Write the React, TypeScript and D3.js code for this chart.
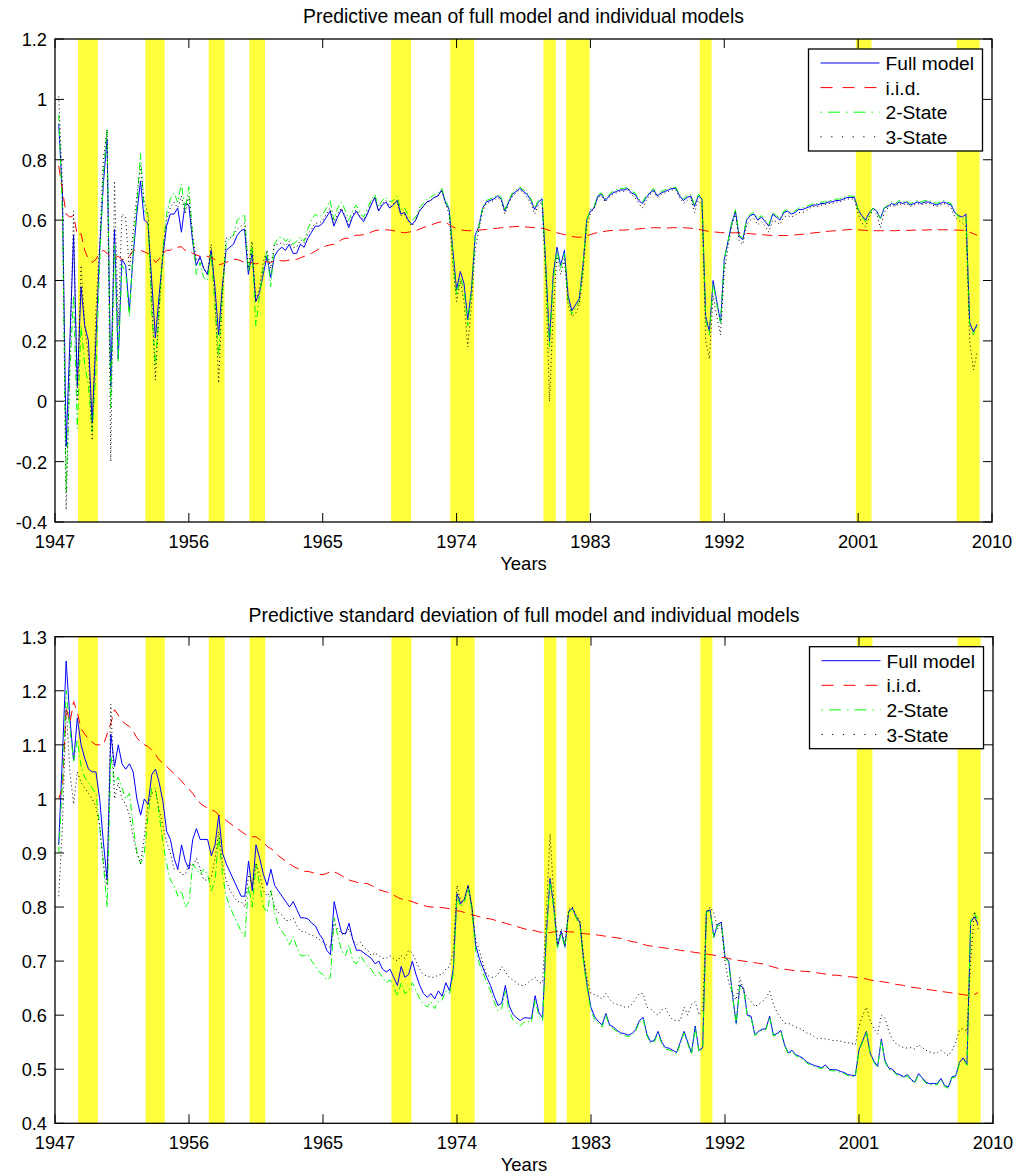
import React from "react";
import * as d3 from "d3";

// ---------------- DATA ----------------
const START_YEAR = 1947.25; // first quarter plotted
const QUARTER = 0.25;

const seriesNames = ["Full model", "i.i.d.", "2-State", "3-State"];

const recessions: [number, number][] = [
  [1948.55, 1949.88], [1953.08, 1954.37], [1957.33, 1958.4], [1960.07, 1961.12],
  [1969.6, 1970.94], [1973.58, 1975.18], [1979.84, 1980.67], [1981.37, 1982.94],
  [1990.35, 1991.15], [2000.85, 2001.9], [2007.62, 2009.17],
];

const xTickYears = [1947, 1956, 1965, 1974, 1983, 1992, 2001, 2010];
const meanTicks = [-0.4, -0.2, 0, 0.2, 0.4, 0.6, 0.8, 1, 1.2];
const sdTicks = [0.4, 0.5, 0.6, 0.7, 0.8, 0.9, 1, 1.1, 1.2, 1.3];

// Predictive mean
const meanFull = [
  0.92, 0.68, -0.15,
  0.2, 0.55, 0.05, 0.38,
  0.25, 0.2, -0.07, 0.2,
  0.5, 0.72, 0.87, 0.05,
  0.57, 0.14, 0.47, 0.45,
  0.3, 0.48, 0.62, 0.73,
  0.6, 0.59, 0.4, 0.21,
  0.35, 0.48, 0.58, 0.62,
  0.62, 0.64, 0.56, 0.655,
  0.65, 0.53, 0.45, 0.48,
  0.44, 0.42, 0.5, 0.38,
  0.22, 0.38, 0.5, 0.51,
  0.52, 0.55, 0.565, 0.57,
  0.42, 0.49, 0.33, 0.36,
  0.42, 0.48, 0.41, 0.48,
  0.5, 0.51, 0.5, 0.52,
  0.49, 0.49, 0.52, 0.51,
  0.54, 0.56, 0.58, 0.58,
  0.59, 0.61, 0.63, 0.58,
  0.61, 0.635, 0.61, 0.575,
  0.61, 0.63, 0.61, 0.595,
  0.62, 0.65, 0.675, 0.63,
  0.65, 0.66, 0.64, 0.65,
  0.665, 0.62, 0.625, 0.6,
  0.585, 0.6, 0.63, 0.645,
  0.66, 0.665, 0.675, 0.68,
  0.7, 0.66, 0.635, 0.5,
  0.37, 0.43, 0.39, 0.27,
  0.37, 0.55, 0.58, 0.64,
  0.66, 0.665, 0.67, 0.68,
  0.67, 0.63, 0.66, 0.685,
  0.695, 0.705, 0.695, 0.685,
  0.665, 0.635, 0.66, 0.67,
  0.45, 0.2, 0.42, 0.51,
  0.45, 0.5, 0.35, 0.3,
  0.32, 0.34, 0.45, 0.6,
  0.63, 0.64, 0.68, 0.685,
  0.665, 0.68, 0.69, 0.695,
  0.7, 0.7, 0.705, 0.69,
  0.685, 0.665, 0.655, 0.675,
  0.69, 0.7, 0.68, 0.69,
  0.695, 0.7, 0.705, 0.705,
  0.68, 0.665, 0.675, 0.68,
  0.645, 0.68, 0.67, 0.28,
  0.23, 0.4, 0.33, 0.26,
  0.47, 0.53, 0.59, 0.63,
  0.545, 0.535, 0.6, 0.615,
  0.62, 0.6, 0.61, 0.595,
  0.58, 0.62, 0.61, 0.6,
  0.625, 0.63, 0.62, 0.625,
  0.635, 0.635, 0.64, 0.645,
  0.65, 0.65, 0.655, 0.655,
  0.66, 0.66, 0.665, 0.665,
  0.67, 0.675, 0.675, 0.675,
  0.635, 0.615, 0.6, 0.625,
  0.64, 0.63, 0.605, 0.64,
  0.645, 0.655, 0.65, 0.66,
  0.655, 0.66, 0.65, 0.655,
  0.66, 0.655, 0.66, 0.66,
  0.655, 0.65, 0.655, 0.66,
  0.655, 0.65, 0.625, 0.615,
  0.61, 0.62, 0.26, 0.23,
  0.255,
];

const meanIid = [
  0.78, 0.7, 0.62,
  0.61, 0.615, 0.55, 0.555,
  0.5, 0.47, 0.46, 0.47,
  0.49, 0.5, 0.49, 0.48,
  0.475, 0.48, 0.47, 0.47,
  0.48, 0.5, 0.5, 0.5,
  0.495, 0.49, 0.48, 0.46,
  0.47, 0.49, 0.5, 0.5,
  0.51, 0.51, 0.512, 0.5,
  0.5, 0.49, 0.485, 0.48,
  0.48, 0.48, 0.475, 0.47,
  0.452, 0.455, 0.46, 0.465,
  0.47, 0.47, 0.465, 0.46,
  0.455, 0.46, 0.455, 0.457,
  0.46, 0.463, 0.46, 0.465,
  0.467, 0.465, 0.465, 0.468,
  0.47, 0.47, 0.475, 0.48,
  0.485, 0.49, 0.497, 0.505,
  0.51, 0.515, 0.518, 0.52,
  0.525, 0.535, 0.54, 0.54,
  0.545, 0.55, 0.55, 0.552,
  0.555, 0.56, 0.565, 0.567,
  0.568, 0.568, 0.567, 0.565,
  0.563, 0.56, 0.558, 0.56,
  0.562, 0.565, 0.57, 0.575,
  0.579, 0.583, 0.588, 0.592,
  0.595, 0.593, 0.585, 0.578,
  0.572, 0.568, 0.566, 0.565,
  0.565, 0.566, 0.567, 0.568,
  0.569, 0.57, 0.572, 0.573,
  0.575, 0.576, 0.577, 0.578,
  0.579, 0.579, 0.578, 0.577,
  0.576, 0.575, 0.574, 0.573,
  0.57, 0.566, 0.562, 0.558,
  0.555, 0.552, 0.549, 0.546,
  0.544, 0.543, 0.545, 0.548,
  0.552, 0.556, 0.559, 0.561,
  0.563, 0.565, 0.566, 0.567,
  0.567, 0.567, 0.568, 0.569,
  0.57, 0.571, 0.572, 0.573,
  0.574, 0.575, 0.575, 0.574,
  0.574, 0.574, 0.575, 0.575,
  0.575, 0.575, 0.574, 0.573,
  0.572, 0.57, 0.567, 0.565,
  0.562, 0.561, 0.56, 0.559,
  0.558, 0.558, 0.558, 0.558,
  0.558, 0.557, 0.556, 0.555,
  0.554, 0.553, 0.552, 0.551,
  0.55, 0.549, 0.549, 0.549,
  0.549, 0.549, 0.55, 0.551,
  0.552, 0.553, 0.555, 0.556,
  0.558, 0.559, 0.56, 0.562,
  0.563, 0.564, 0.565, 0.566,
  0.567, 0.568, 0.569, 0.569,
  0.568, 0.567, 0.566, 0.565,
  0.565, 0.565, 0.565, 0.565,
  0.565, 0.565, 0.565, 0.566,
  0.566, 0.566, 0.566, 0.567,
  0.567, 0.567, 0.567, 0.568,
  0.568, 0.568, 0.568, 0.568,
  0.568, 0.568, 0.567, 0.567,
  0.566, 0.566, 0.56, 0.555,
  0.55,
];

const mean2State = [
  0.95, 0.62, -0.3,
  0.1, 0.35, -0.09, 0.25,
  0.12, 0.05, -0.1, 0.1,
  0.45, 0.75, 0.9, -0.02,
  0.52, 0.13, 0.45, 0.43,
  0.28, 0.5, 0.65, 0.82,
  0.63, 0.62, 0.3, 0.12,
  0.3, 0.5, 0.62, 0.67,
  0.69, 0.66, 0.72, 0.63,
  0.71, 0.55, 0.42, 0.46,
  0.41, 0.4, 0.49, 0.32,
  0.15, 0.35, 0.52, 0.54,
  0.55, 0.6, 0.61, 0.62,
  0.43, 0.52, 0.25, 0.35,
  0.44, 0.5, 0.38, 0.52,
  0.54, 0.545, 0.53, 0.54,
  0.52, 0.53, 0.545, 0.53,
  0.57, 0.6, 0.62, 0.61,
  0.62, 0.64, 0.665, 0.6,
  0.64, 0.66, 0.635, 0.6,
  0.63, 0.65, 0.625, 0.61,
  0.64, 0.665, 0.685, 0.645,
  0.665, 0.675, 0.66, 0.665,
  0.68, 0.635, 0.64, 0.615,
  0.6, 0.61, 0.64, 0.655,
  0.67, 0.675, 0.685, 0.69,
  0.705, 0.665, 0.64, 0.48,
  0.35, 0.41, 0.37, 0.25,
  0.36, 0.54, 0.58, 0.64,
  0.665, 0.67, 0.675, 0.685,
  0.675, 0.635, 0.665, 0.69,
  0.7, 0.71, 0.7, 0.69,
  0.67, 0.64, 0.665, 0.675,
  0.43, 0.18, 0.4, 0.5,
  0.44, 0.49, 0.33, 0.29,
  0.31, 0.33, 0.45, 0.6,
  0.635, 0.645, 0.685, 0.69,
  0.67, 0.685, 0.695, 0.7,
  0.705, 0.705, 0.71, 0.695,
  0.69, 0.67, 0.66, 0.68,
  0.695, 0.705, 0.685, 0.695,
  0.7, 0.705, 0.71, 0.708,
  0.685, 0.67, 0.68, 0.685,
  0.65, 0.685, 0.675, 0.27,
  0.22, 0.39, 0.32, 0.26,
  0.47, 0.53, 0.59, 0.635,
  0.55, 0.54, 0.605, 0.62,
  0.625, 0.605, 0.615, 0.6,
  0.585, 0.625, 0.615, 0.605,
  0.63, 0.635, 0.625, 0.63,
  0.64, 0.64, 0.645, 0.65,
  0.655, 0.655, 0.66, 0.66,
  0.665, 0.665, 0.67, 0.67,
  0.675, 0.68, 0.68, 0.678,
  0.635, 0.61, 0.595, 0.62,
  0.64, 0.63, 0.605, 0.64,
  0.65, 0.66, 0.655, 0.665,
  0.66, 0.665, 0.655, 0.66,
  0.665, 0.66, 0.665, 0.665,
  0.66, 0.655, 0.66, 0.665,
  0.66, 0.655, 0.63, 0.61,
  0.6, 0.61, 0.25, 0.22,
  0.25,
];

const mean3State = [
  1.01, 0.72, -0.36,
  0.15, 0.63, 0.0, 0.45,
  0.25, 0.15, -0.13, 0.3,
  0.52, 0.8, 0.9, -0.2,
  0.73, 0.25, 0.62, 0.61,
  0.43, 0.56, 0.68, 0.78,
  0.66, 0.62, 0.35, 0.07,
  0.3, 0.5, 0.6, 0.64,
  0.66, 0.64, 0.68, 0.62,
  0.68, 0.55, 0.47, 0.47,
  0.44, 0.42, 0.52, 0.35,
  0.06, 0.35, 0.54, 0.54,
  0.55, 0.57, 0.58, 0.59,
  0.44, 0.53, 0.33, 0.38,
  0.46, 0.5, 0.44, 0.52,
  0.52, 0.525, 0.515, 0.53,
  0.51, 0.51, 0.535, 0.525,
  0.555, 0.57, 0.59, 0.59,
  0.6, 0.62, 0.64, 0.59,
  0.62, 0.64, 0.615, 0.585,
  0.615, 0.635, 0.615, 0.6,
  0.625, 0.655, 0.675, 0.635,
  0.655, 0.665, 0.645, 0.655,
  0.665, 0.615, 0.62, 0.595,
  0.58, 0.6, 0.63, 0.645,
  0.66, 0.665, 0.675, 0.68,
  0.7, 0.655, 0.62, 0.45,
  0.33, 0.4, 0.33, 0.18,
  0.32, 0.5, 0.57, 0.63,
  0.655, 0.66, 0.665, 0.675,
  0.665, 0.62, 0.655, 0.68,
  0.69, 0.7, 0.69, 0.675,
  0.655, 0.62, 0.65, 0.66,
  0.4, 0.0, 0.3, 0.48,
  0.42, 0.47, 0.32, 0.28,
  0.29, 0.32, 0.42, 0.58,
  0.62, 0.64, 0.675, 0.68,
  0.66, 0.675, 0.685, 0.69,
  0.695, 0.695, 0.7, 0.685,
  0.675, 0.655, 0.64, 0.665,
  0.685, 0.695, 0.675, 0.685,
  0.69, 0.695, 0.7, 0.7,
  0.675, 0.655, 0.665, 0.675,
  0.625, 0.665, 0.65, 0.2,
  0.14, 0.35, 0.28, 0.22,
  0.43, 0.51, 0.58, 0.625,
  0.53, 0.52, 0.585, 0.6,
  0.605, 0.585, 0.595, 0.58,
  0.56, 0.6, 0.595, 0.585,
  0.61, 0.615, 0.61, 0.615,
  0.625, 0.625, 0.63, 0.64,
  0.645, 0.645, 0.65, 0.65,
  0.655, 0.655, 0.66, 0.66,
  0.665, 0.67, 0.67, 0.67,
  0.62, 0.59, 0.578, 0.61,
  0.635, 0.62, 0.575, 0.625,
  0.64, 0.65, 0.645, 0.655,
  0.65, 0.655, 0.645, 0.65,
  0.655, 0.65, 0.655, 0.655,
  0.65, 0.645, 0.65, 0.655,
  0.65, 0.64, 0.61, 0.6,
  0.59, 0.58, 0.2, 0.104,
  0.16,
];

// Predictive standard deviation
const sdFull = [
  0.915, 1.08, 1.255,
  1.15, 1.07, 1.15, 1.1,
  1.075, 1.055, 1.05, 1.05,
  1.0, 0.92, 0.85, 1.12,
  1.06, 1.1, 1.065, 1.055,
  1.065, 1.05, 1.0, 0.97,
  1.0, 0.99, 1.045, 1.055,
  1.03, 0.995, 0.94, 0.925,
  0.89, 0.87, 0.915, 0.885,
  0.87, 0.925, 0.945, 0.925,
  0.925, 0.925, 0.895, 0.915,
  0.97, 0.9, 0.88, 0.865,
  0.85, 0.835, 0.82, 0.82,
  0.885, 0.83, 0.915, 0.89,
  0.86, 0.84, 0.87, 0.84,
  0.83, 0.82, 0.81, 0.8,
  0.81, 0.795, 0.78, 0.78,
  0.778, 0.77, 0.765, 0.75,
  0.74, 0.72, 0.712, 0.81,
  0.78, 0.752, 0.75, 0.77,
  0.74, 0.72, 0.72, 0.715,
  0.71, 0.705, 0.695, 0.7,
  0.685, 0.68, 0.685, 0.67,
  0.655, 0.69, 0.67, 0.675,
  0.7, 0.675, 0.655, 0.64,
  0.633, 0.64, 0.63, 0.645,
  0.635, 0.66, 0.645, 0.685,
  0.825, 0.806, 0.815, 0.84,
  0.8, 0.73, 0.705, 0.687,
  0.67, 0.655, 0.635, 0.618,
  0.622, 0.655, 0.618, 0.602,
  0.595, 0.59, 0.595, 0.595,
  0.594, 0.636, 0.605, 0.595,
  0.75, 0.853, 0.8, 0.727,
  0.755, 0.727, 0.792, 0.798,
  0.782, 0.772, 0.702, 0.653,
  0.614, 0.597, 0.588, 0.582,
  0.603, 0.582, 0.578, 0.572,
  0.567, 0.566, 0.563, 0.566,
  0.573, 0.59, 0.596, 0.565,
  0.551, 0.553, 0.57, 0.55,
  0.54, 0.539, 0.535, 0.531,
  0.55, 0.57, 0.55, 0.53,
  0.58, 0.535, 0.54, 0.792,
  0.795, 0.745, 0.768, 0.772,
  0.708, 0.7, 0.638, 0.585,
  0.656, 0.65, 0.6, 0.598,
  0.564, 0.57, 0.574, 0.575,
  0.598, 0.563, 0.566, 0.572,
  0.545, 0.53, 0.535, 0.527,
  0.524, 0.52, 0.513, 0.51,
  0.507, 0.505, 0.503, 0.508,
  0.5, 0.499, 0.499, 0.496,
  0.494, 0.49, 0.489, 0.488,
  0.536, 0.553, 0.57, 0.53,
  0.515, 0.505, 0.556, 0.515,
  0.502, 0.5, 0.492, 0.49,
  0.486, 0.49, 0.481, 0.476,
  0.492, 0.484, 0.476, 0.473,
  0.474, 0.473, 0.483, 0.47,
  0.467, 0.486, 0.488, 0.513,
  0.521, 0.509, 0.772, 0.782,
  0.768,
];

const sdIid = [
  1.0, 1.02, 1.17,
  1.14, 1.18, 1.16, 1.13,
  1.12, 1.11, 1.105, 1.1,
  1.1, 1.1, 1.12, 1.14,
  1.165, 1.155, 1.145, 1.138,
  1.134, 1.125, 1.113, 1.105,
  1.1, 1.097, 1.09, 1.082,
  1.072, 1.066, 1.06, 1.053,
  1.047, 1.04, 1.033, 1.025,
  1.018, 1.01, 1.0, 0.992,
  0.987, 0.983, 0.98, 0.977,
  0.97, 0.965, 0.96, 0.955,
  0.95, 0.945, 0.94, 0.935,
  0.932, 0.93, 0.93, 0.925,
  0.92, 0.912, 0.908, 0.903,
  0.895, 0.89, 0.885, 0.88,
  0.875, 0.872, 0.869, 0.866,
  0.866, 0.864, 0.862, 0.86,
  0.86, 0.862, 0.866, 0.865,
  0.862, 0.858, 0.854, 0.85,
  0.848, 0.846, 0.844, 0.844,
  0.843, 0.84, 0.836, 0.832,
  0.83, 0.828, 0.826, 0.822,
  0.818, 0.815, 0.813, 0.812,
  0.81, 0.807, 0.805, 0.803,
  0.801, 0.8, 0.8, 0.799,
  0.799, 0.798, 0.797, 0.795,
  0.793, 0.792, 0.79, 0.788,
  0.786, 0.784, 0.782, 0.78,
  0.779, 0.778, 0.776, 0.774,
  0.772, 0.77, 0.768, 0.766,
  0.764, 0.762, 0.76, 0.758,
  0.757, 0.756, 0.754, 0.753,
  0.752, 0.753, 0.754, 0.755,
  0.755, 0.755, 0.754, 0.754,
  0.753, 0.752, 0.751, 0.75,
  0.75, 0.749, 0.748, 0.747,
  0.746, 0.745, 0.744, 0.743,
  0.742, 0.74, 0.738, 0.736,
  0.735, 0.733, 0.731, 0.729,
  0.728, 0.727, 0.726, 0.725,
  0.724, 0.723, 0.722, 0.721,
  0.72, 0.719, 0.718, 0.717,
  0.716, 0.715, 0.714, 0.713,
  0.712, 0.711, 0.709, 0.707,
  0.706, 0.705, 0.703, 0.702,
  0.701, 0.7, 0.699, 0.698,
  0.697, 0.696, 0.695, 0.693,
  0.691, 0.689, 0.687, 0.686,
  0.685, 0.684, 0.683, 0.682,
  0.682, 0.681, 0.681, 0.68,
  0.679, 0.678, 0.677, 0.676,
  0.675, 0.674, 0.674, 0.673,
  0.672, 0.671, 0.671, 0.67,
  0.669, 0.668, 0.667, 0.665,
  0.664, 0.663, 0.662, 0.661,
  0.66, 0.658, 0.657, 0.656,
  0.655, 0.653, 0.652, 0.651,
  0.65, 0.649, 0.648, 0.647,
  0.646, 0.645, 0.644, 0.643,
  0.642, 0.641, 0.64, 0.639,
  0.638, 0.637, 0.636, 0.638,
  0.642,
];

const sd2State = [
  0.9, 1.03, 1.2,
  1.13, 1.07, 1.11, 1.06,
  1.04, 1.03, 1.02, 1.01,
  0.95, 0.88, 0.8, 1.08,
  1.03, 1.04, 1.02, 1.0,
  1.01, 0.95, 0.9, 0.88,
  0.9, 0.97, 1.02, 1.02,
  0.97, 0.92, 0.88, 0.85,
  0.84, 0.82, 0.83, 0.8,
  0.81, 0.88, 0.87, 0.86,
  0.87, 0.86, 0.83, 0.85,
  0.93, 0.86, 0.82, 0.8,
  0.785, 0.77, 0.755, 0.745,
  0.84, 0.8, 0.88, 0.84,
  0.8, 0.79, 0.83, 0.79,
  0.765, 0.755, 0.745, 0.73,
  0.745, 0.725, 0.71, 0.71,
  0.712, 0.7, 0.69, 0.68,
  0.675, 0.665, 0.67, 0.78,
  0.745, 0.72, 0.71, 0.73,
  0.7, 0.695, 0.71, 0.7,
  0.69, 0.685, 0.672, 0.68,
  0.67, 0.66, 0.665, 0.653,
  0.635, 0.66, 0.64, 0.645,
  0.66, 0.645, 0.63, 0.62,
  0.615, 0.625, 0.612, 0.625,
  0.628, 0.645, 0.64, 0.675,
  0.82, 0.8, 0.81, 0.835,
  0.795, 0.72, 0.695, 0.678,
  0.66, 0.645, 0.625, 0.608,
  0.612, 0.645, 0.608, 0.592,
  0.585, 0.58, 0.587, 0.588,
  0.587, 0.628, 0.598, 0.59,
  0.745, 0.85, 0.797, 0.723,
  0.752, 0.724, 0.79, 0.797,
  0.78, 0.768, 0.698, 0.648,
  0.608, 0.592, 0.584, 0.578,
  0.6, 0.579, 0.575, 0.569,
  0.564, 0.563, 0.56, 0.563,
  0.57, 0.587, 0.593, 0.562,
  0.548, 0.55, 0.567, 0.547,
  0.537, 0.536, 0.532, 0.528,
  0.547, 0.567, 0.547, 0.527,
  0.577, 0.532, 0.537, 0.79,
  0.793, 0.743, 0.766, 0.77,
  0.706, 0.698, 0.636, 0.583,
  0.654, 0.648, 0.598, 0.596,
  0.562, 0.568, 0.572, 0.573,
  0.596, 0.561, 0.564, 0.57,
  0.543, 0.528, 0.533, 0.525,
  0.522, 0.518, 0.511, 0.508,
  0.505, 0.503, 0.501, 0.506,
  0.498, 0.497, 0.497, 0.494,
  0.492, 0.488, 0.487, 0.486,
  0.534, 0.551, 0.568, 0.528,
  0.513, 0.503, 0.554, 0.513,
  0.5, 0.498, 0.49, 0.488,
  0.484, 0.488, 0.479, 0.474,
  0.49, 0.482, 0.474, 0.471,
  0.472, 0.471, 0.481, 0.468,
  0.465, 0.484, 0.486, 0.511,
  0.519, 0.507, 0.775, 0.79,
  0.775,
];

const sd3State = [
  0.82, 0.95, 1.17,
  1.05, 0.99, 1.05, 1.03,
  1.02, 1.01, 1.0, 0.985,
  0.95, 0.88, 0.84, 1.175,
  1.0, 1.03, 1.0, 0.99,
  0.97, 0.93, 0.9, 0.88,
  0.93, 0.99, 1.01, 1.015,
  0.98, 0.95, 0.92, 0.9,
  0.87, 0.87, 0.86, 0.86,
  0.88, 0.875, 0.89, 0.87,
  0.85, 0.85, 0.855, 0.89,
  0.94, 0.88, 0.85, 0.83,
  0.82, 0.81, 0.81, 0.8,
  0.86, 0.84, 0.88, 0.86,
  0.83, 0.82, 0.83, 0.8,
  0.79, 0.785, 0.775, 0.775,
  0.78, 0.765, 0.755, 0.755,
  0.75, 0.748, 0.745, 0.74,
  0.735, 0.73, 0.725, 0.77,
  0.76, 0.75, 0.75, 0.76,
  0.74, 0.73, 0.735, 0.725,
  0.72, 0.71, 0.715, 0.71,
  0.705, 0.705, 0.71, 0.705,
  0.7, 0.71, 0.705, 0.72,
  0.715, 0.7, 0.685, 0.675,
  0.672, 0.67, 0.67, 0.675,
  0.675, 0.685, 0.69, 0.72,
  0.84, 0.81, 0.815, 0.84,
  0.8, 0.74, 0.72, 0.695,
  0.675, 0.67, 0.67, 0.675,
  0.69, 0.68, 0.67, 0.665,
  0.66, 0.655, 0.655, 0.66,
  0.665, 0.67, 0.66, 0.66,
  0.79, 0.935, 0.82, 0.73,
  0.76, 0.73, 0.795, 0.8,
  0.785, 0.775, 0.71, 0.665,
  0.64, 0.638, 0.635, 0.63,
  0.64, 0.63, 0.622, 0.62,
  0.618, 0.615, 0.615, 0.62,
  0.63, 0.64, 0.64, 0.615,
  0.612, 0.605, 0.6, 0.61,
  0.613, 0.6, 0.591, 0.59,
  0.59, 0.615, 0.6, 0.62,
  0.625, 0.6, 0.61, 0.79,
  0.8, 0.79, 0.76, 0.77,
  0.7, 0.66, 0.64, 0.628,
  0.67, 0.644, 0.632, 0.625,
  0.616, 0.62, 0.625, 0.632,
  0.644, 0.62, 0.605, 0.595,
  0.585, 0.585, 0.582, 0.578,
  0.576, 0.572, 0.567, 0.565,
  0.56, 0.556, 0.557, 0.556,
  0.555, 0.553, 0.553, 0.552,
  0.55, 0.549, 0.548, 0.545,
  0.58, 0.6, 0.615, 0.59,
  0.575, 0.565, 0.6, 0.595,
  0.57, 0.555, 0.547, 0.543,
  0.54, 0.539, 0.54, 0.537,
  0.545, 0.54, 0.535, 0.532,
  0.53, 0.53, 0.535, 0.53,
  0.525, 0.535, 0.55, 0.573,
  0.575, 0.57, 0.7, 0.792,
  0.759,
];

// ---------------- STYLE ----------------
const W = 1018;
const H = 1176;
const FONT = '"Liberation Sans", Arial, Helvetica, sans-serif';
const BAND = "#ffff3c";

const lineStyles = [
  { color: "#0000ff", dash: undefined as string | undefined, legendDash: undefined as string | undefined },
  { color: "#ff0000", dash: "10,6", legendDash: "12,10" },
  { color: "#00ff00", dash: "7,3,1.5,3", legendDash: "1.5,6,12,6" },
  { color: "#000000", dash: "1,3", legendDash: "1.2,9.5" },
];

type PanelProps = {
  id: string;
  left: number;
  right: number;
  top: number;
  bottom: number;
  domain: [number, number];
  ticks: number[];
  title: string;
  titleY: number;
  series: number[][];
};

function fmt(v: number) {
  return String(Math.round(v * 10) / 10);
}

function Panel(p: PanelProps) {
  const x = d3.scaleLinear().domain([1947, 2010]).range([p.left, p.right]);
  const y = d3.scaleLinear().domain(p.domain).range([p.bottom, p.top]);
  const line = d3
    .line<number>()
    .x((_, i) => x(START_YEAR + i * QUARTER))
    .y((v) => y(v));
  const tickLen = 9;
  const legW = 174;
  const legH = 102;
  const legX = p.right - 9.5 - legW;
  const legY = p.top + 10;

  return (
    <g>
      <defs>
        <clipPath id={p.id}>
          <rect x={p.left} y={p.top} width={p.right - p.left} height={p.bottom - p.top} />
        </clipPath>
      </defs>
      <text
        x={(p.left + p.right) / 2}
        y={p.titleY}
        textAnchor="middle"
        fontFamily={FONT}
        fontSize={19.4}
        fill="#000"
      >
        {p.title}
      </text>
      {recessions.map(([a, b], i) => (
        <rect key={i} x={x(a)} y={p.top} width={x(b) - x(a)} height={p.bottom - p.top} fill={BAND} />
      ))}
      <g clipPath={`url(#${p.id})`}>
        {p.series.map((s, i) => (
          <path
            key={i}
            d={line(s) || ""}
            fill="none"
            stroke={lineStyles[i].color}
            strokeWidth={1}
            strokeDasharray={lineStyles[i].dash}
          />
        ))}
      </g>
      {/* ticks */}
      {xTickYears.map((t) => (
        <g key={t}>
          <line x1={x(t)} x2={x(t)} y1={p.bottom} y2={p.bottom - tickLen} stroke="#000" />
          <line x1={x(t)} x2={x(t)} y1={p.top} y2={p.top + tickLen} stroke="#000" />
          <text x={x(t)} y={p.bottom + 26} textAnchor="middle" fontFamily={FONT} fontSize={18.2} fill="#000">
            {t}
          </text>
        </g>
      ))}
      {p.ticks.map((v) => (
        <g key={v}>
          <line x1={p.left} x2={p.left + tickLen} y1={y(v)} y2={y(v)} stroke="#000" />
          <line x1={p.right} x2={p.right - tickLen} y1={y(v)} y2={y(v)} stroke="#000" />
          <text x={47} y={y(v) + 7} textAnchor="end" fontFamily={FONT} fontSize={18.2} fill="#000">
            {fmt(v)}
          </text>
        </g>
      ))}
      <rect
        x={p.left}
        y={p.top}
        width={p.right - p.left}
        height={p.bottom - p.top}
        fill="none"
        stroke="#000"
        strokeWidth={1.3}
      />
      <text
        x={(p.left + p.right) / 2}
        y={p.bottom + 47.5}
        textAnchor="middle"
        fontFamily={FONT}
        fontSize={18.5}
        fill="#000"
      >
        Years
      </text>
      {/* legend */}
      <g>
        <rect x={legX} y={legY} width={legW} height={legH} fill="#fff" stroke="#000" strokeWidth={1.3} />
        {seriesNames.map((name, i) => {
          const ry = legY + 14 + i * 24.6;
          return (
            <g key={name}>
              <line
                x1={legX + 12}
                x2={legX + 71}
                y1={ry}
                y2={ry}
                stroke={lineStyles[i].color}
                strokeWidth={1}
                strokeDasharray={lineStyles[i].legendDash}
              />
              <text x={legX + 77} y={ry + 7} fontFamily={FONT} fontSize={19.2} fill="#000">
                {name}
              </text>
            </g>
          );
        })}
      </g>
    </g>
  );
}

export default function App() {
  return (
    <svg
      width={W}
      height={H}
      viewBox={`0 0 ${W} ${H}`}
      style={{ position: "absolute", left: 0, top: 0, background: "#fff" }}
    >
      <rect x={0} y={0} width={W} height={H} fill="#fff" />
      <Panel
        id="clipMean"
        left={55}
        right={992}
        top={39}
        bottom={522}
        domain={[-0.4, 1.2]}
        ticks={meanTicks}
        title="Predictive mean of full model and individual models"
        titleY={23.3}
        series={[meanFull, meanIid, mean2State, mean3State]}
      />
      <Panel
        id="clipSd"
        left={55}
        right={993}
        top={636.7}
        bottom={1123.3}
        domain={[0.4, 1.3]}
        ticks={sdTicks}
        title="Predictive standard deviation of full model and individual models"
        titleY={621.7}
        series={[sdFull, sdIid, sd2State, sd3State]}
      />
    </svg>
  );
}
